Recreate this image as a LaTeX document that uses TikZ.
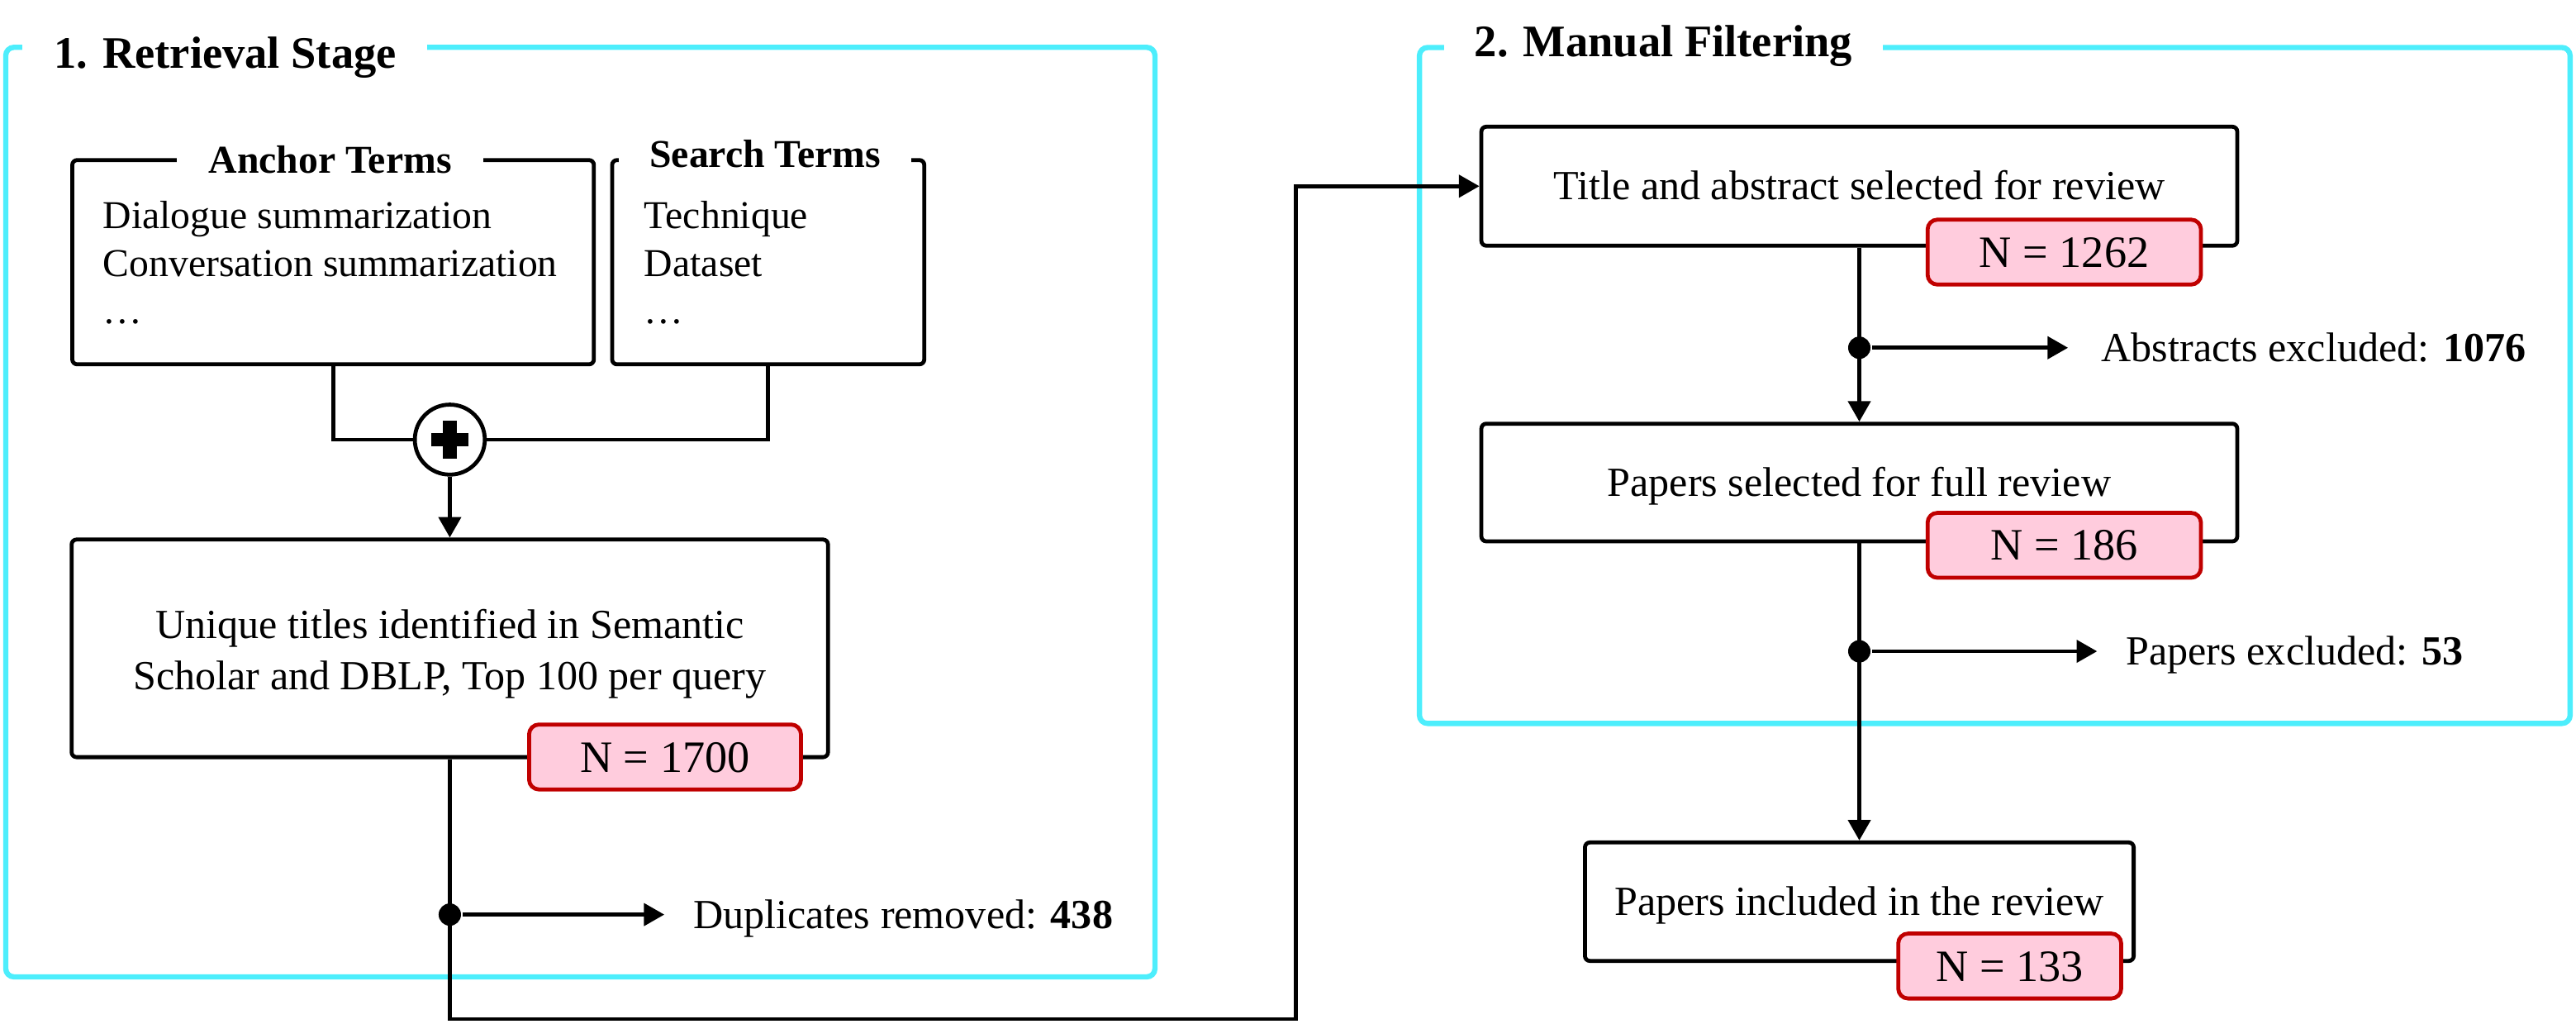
\documentclass[tikz,border=0pt]{standalone}
\usepackage{fontspec}
\setmainfont{Liberation Serif}
\usetikzlibrary{arrows.meta}
\definecolor{framecyan}{RGB}{77,238,252}
\definecolor{badgefill}{RGB}{255,204,221}
\definecolor{badgeline}{RGB}{192,0,0}
\begin{document}
\begin{tikzpicture}[x=1pt,y=-1pt,
  line width=2.4pt,
  box/.style={draw, line width=2.4pt, rounded corners=3pt, inner sep=0pt},
  boxtext/.style={font=\fontsize{25.2pt}{30pt}\selectfont, text height=16.7pt, text depth=0pt},
  plaintext/.style={font=\fontsize{25.2pt}{30pt}\selectfont, inner sep=0pt},
  terms/.style={font=\fontsize{24pt}{29pt}\selectfont, inner sep=0pt, anchor=base west},
  termtitle/.style={fill=white, font=\bfseries\fontsize{24pt}{29pt}\selectfont, text height=15.9pt, text depth=0pt, inner ysep=1pt},
  frame/.style={draw=framecyan, line width=3.2pt, rounded corners=5pt},
  frametitle/.style={fill=white, font=\bfseries\fontsize{27.4pt}{32pt}\selectfont, text height=18.1pt, text depth=0pt, inner ysep=1.5pt},
  badge/.style={draw=badgeline, fill=badgefill, line width=2.4pt, rounded corners=6pt, font=\fontsize{27.3pt}{32pt}\selectfont, text height=18.3pt, text depth=0pt, inner sep=0pt, minimum height=39.5pt},
  arr/.style={-{Triangle[length=12.5pt,width=13.5pt]}},
  dotnode/.style={circle, fill, inner sep=0pt, minimum size=13.6pt},
  excl/.style={font=\fontsize{25.2pt}{30pt}\selectfont, text height=16.7pt, text depth=0pt, inner ysep=0pt, anchor=west},
]
\useasboundingbox (0,0) rectangle (1568,622.6);

% frames
\draw[frame] (3.5,28.8) rectangle (703,594.4);
\draw[frame] (864,28.9) rectangle (1564.4,440.2);
\node[frametitle, inner xsep=19pt] (t1) at (137,32.3) {1. Retrieval Stage};
\node[frametitle, inner xsep=18.5pt] (t2) at (1012.5,25.6) {2. Manual Filtering};

% stage 1
\node[box, minimum width=317.5pt, minimum height=124.3pt] (anc) at (202.75,159.55) {};
\node[box, minimum width=190pt, minimum height=124.3pt] (srch) at (467.6,159.55) {};
\node[termtitle, inner xsep=19.5pt] (anct) at (201,97.3) {Anchor Terms};
\node[termtitle, inner xsep=18.7pt] (srcht) at (465.8,94) {Search Terms};
\node[terms] (a1) at (61.5,139.2) {Dialogue summarization};
\node[terms] (a2) at (61.5,168) {Conversation summarization};
\node[terms] (a3) at (61.5,196.9) {…};
\node[terms] (s1) at (391,139.2) {Technique};
\node[terms] (s2) at (391,168) {Dataset};
\node[terms] (s3) at (391,196.9) {…};

\node[draw, circle, fill=white, minimum size=42.6pt, inner sep=0pt] (plus) at (273.8,267.5) {};
\draw (anc.south) |- (plus.west);
\draw (srch.south) |- (plus.east);
\fill (plus.center) ++(-11.5,-4.2) rectangle ++(23,8.4);
\fill (plus.center) ++(-4.2,-11.5) rectangle ++(8.4,23);

\node[box, minimum width=460.4pt, minimum height=132.4pt] (uniq) at (273.8,394.5) {};
\draw[arr] (plus.south) -- (uniq.north);
\node[plaintext, anchor=base] (u1) at (273.8,388.7) {Unique titles identified in Semantic};
\node[plaintext, anchor=base] (u2) at (273.8,419.5) {Scholar and DBLP, Top 100 per query};

% stage 2 boxes
\node[box, boxtext, minimum width=460.1pt, minimum height=72.4pt] (ttl) at (1131.75,113.3) {Title and abstract selected for review};
\node[box, boxtext, minimum width=460.1pt, minimum height=71.6pt] (sel) at (1131.75,293.6) {Papers selected for full review};
\node[box, boxtext, minimum width=334pt, minimum height=72.1pt] (inc) at (1131.75,548.65) {Papers included in the review};

% long connector
\coordinate (bend) at (788.7,620);
\draw[arr] (uniq.south) |- (bend) |- (ttl.west);
\draw[arr] (ttl.south) -- (sel.north);
\draw[arr] (sel.south) -- (inc.north);

% badges
\node[badge, minimum width=165.5pt] (n1) at (404.8,460.6) {N = 1700};
\node[badge, minimum width=166.4pt] (n2) at (1256.5,153.4) {N = 1262};
\node[badge, minimum width=166.4pt] (n3) at (1256.5,331.8) {N = 186};
\node[badge, minimum width=135.7pt] (n4) at (1223.3,587.8) {N = 133};

% exclusions
\node[dotnode] (d1) at (273.8,556.5) {};
\node[excl, inner xsep=16.4pt] (dup) at (404.4,556.5) {Duplicates removed: \textbf{438}};
\draw[arr] (d1) -- (dup.west);

\node[dotnode] (d2) at (1131.75,211.6) {};
\node[excl, inner xsep=19.2pt] (abs) at (1258.8,211.6) {Abstracts excluded: \textbf{1076}};
\draw[arr] (d2) -- (abs.west);

\node[dotnode] (d3) at (1131.75,396.3) {};
\node[excl, inner xsep=16.5pt] (pex) at (1276.5,396.3) {Papers excluded: \textbf{53}};
\draw[arr] (d3) -- (pex.west);
\end{tikzpicture}
\end{document}
